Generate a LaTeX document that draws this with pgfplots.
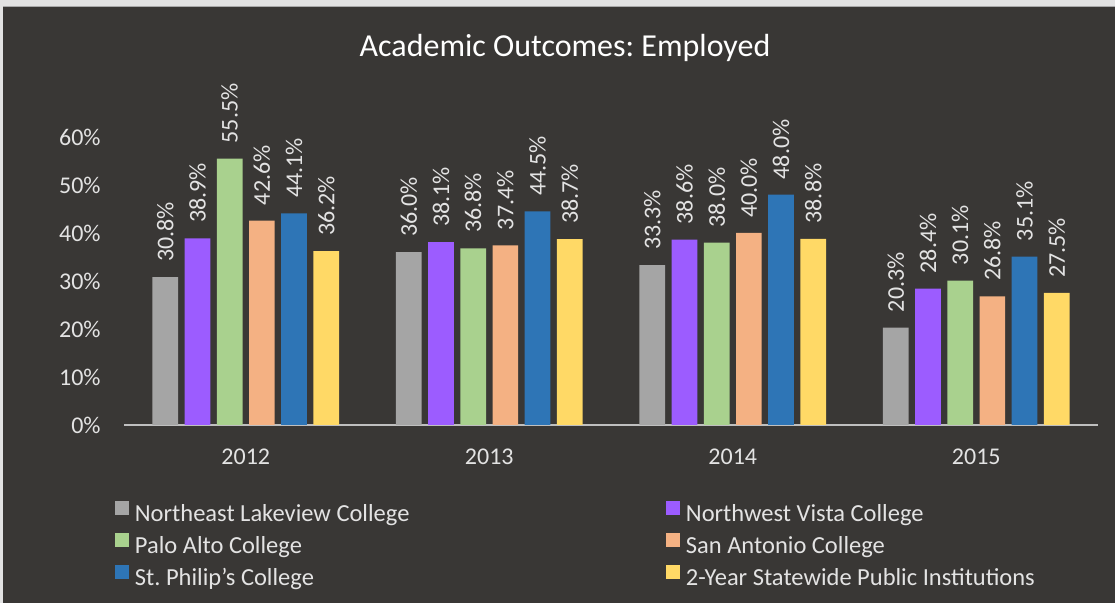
\documentclass[border=0pt]{standalone}
\usepackage{pgfplots}
\pgfplotsset{compat=1.18}
\usepackage{fontspec}
\setmainfont{Carlito}
\frenchspacing
\definecolor{bg}{HTML}{393735}
\definecolor{cgray}{HTML}{A5A5A5}
\definecolor{cpurple}{HTML}{9C5CFF}
\definecolor{cgreen}{HTML}{A9D18E}
\definecolor{corange}{HTML}{F4B183}
\definecolor{cblue}{HTML}{2E75B6}
\definecolor{cyellow}{HTML}{FFD966}
\definecolor{txt}{HTML}{E3E3E3}
\definecolor{axl}{HTML}{BFBFBF}
\definecolor{band}{HTML}{E2E2E2}
\definecolor{bandline}{HTML}{A8A8A8}
\pgfplotsset{sqleg/.style={legend image code/.code={\fill[##1] (0pt,0.5pt) rectangle (6.75pt,7.25pt);}}}
\begin{document}
\begin{tikzpicture}[x=0.5pt,y=0.5pt]
\useasboundingbox (0,0) rectangle (1115,603);
\fill[bg] (0,0) rectangle (1115,603);
\fill[band] (0,597) rectangle (1115,603);
\draw[bandline, line width=0.75pt] (0,596.5) -- (1115,596.5);
\fill[band] (0,0) rectangle (3,597);
\node[anchor=base, font=\fontsize{16}{19}\selectfont, text=white] at (565,546) {Academic Outcomes: Employed};
\begin{axis}[
  at={(62pt,89pt)}, anchor=south west,
  scale only axis, width=487pt, height=144pt,
  xmin=-0.5, xmax=3.5, ymin=0, ymax=60,
  ybar=3.25pt, bar width=12.85pt,
  axis x line*=bottom, axis y line*=left,
  y axis line style={draw=none},
  x axis line style={draw=axl, line width=1pt},
  major tick length=0pt,
  xtick={0,1,2,3}, xticklabels={2012,2013,2014,2015},
  ytick={0,10,20,30,40,50,60},
  /pgf/number format/assume math mode=true,
  yticklabel={\pgfmathprintnumber{\tick}\%},
  yticklabel style={font=\fontsize{12}{14}\selectfont, text=txt, anchor=east, inner sep=0pt, xshift=-11.5pt},
  xticklabel style={font=\fontsize{12}{14}\selectfont, text=txt, anchor=base, inner sep=0pt, yshift=-20pt},
  clip=false,
  nodes near coords={\pgfmathprintnumber[fixed,fixed zerofill,precision=1]{\pgfplotspointmeta}\%},
  every node near coord/.append style={rotate=90, anchor=west, inner xsep=7.5pt, inner ysep=0pt, font=\fontsize{12}{14}\selectfont, text=txt},
  legend columns=2,
  legend cell align=left,
  legend style={at={(-0.00924,-0.2639)}, anchor=north west, draw=none, fill=none, inner sep=0pt,
    font=\fontsize{12.25}{14}\selectfont, text=txt, row sep=2.75pt,
    nodes={inner xsep=3pt, inner ysep=0pt, text height=9pt, text depth=3pt},
    /tikz/column 2/.style={column sep=125.5pt}},
]
\addplot[fill=cgray, draw=none, sqleg] coordinates {(0,30.8) (1,36.0) (2,33.3) (3,20.3)};
\addlegendentry{Northeast Lakeview College}
\addplot[fill=cpurple, draw=none, sqleg] coordinates {(0,38.9) (1,38.1) (2,38.6) (3,28.4)};
\addlegendentry{Northwest Vista College}
\addplot[fill=cgreen, draw=none, sqleg] coordinates {(0,55.5) (1,36.8) (2,38.0) (3,30.1)};
\addlegendentry{Palo Alto College}
\addplot[fill=corange, draw=none, sqleg] coordinates {(0,42.6) (1,37.4) (2,40.0) (3,26.8)};
\addlegendentry{San Antonio College}
\addplot[fill=cblue, draw=none, sqleg] coordinates {(0,44.1) (1,44.5) (2,48.0) (3,35.1)};
\addlegendentry{St. Philip’s College}
\addplot[fill=cyellow, draw=none, sqleg] coordinates {(0,36.2) (1,38.7) (2,38.8) (3,27.5)};
\addlegendentry{2-Year Statewide Public Institutions}
\end{axis}
\end{tikzpicture}
\end{document}
